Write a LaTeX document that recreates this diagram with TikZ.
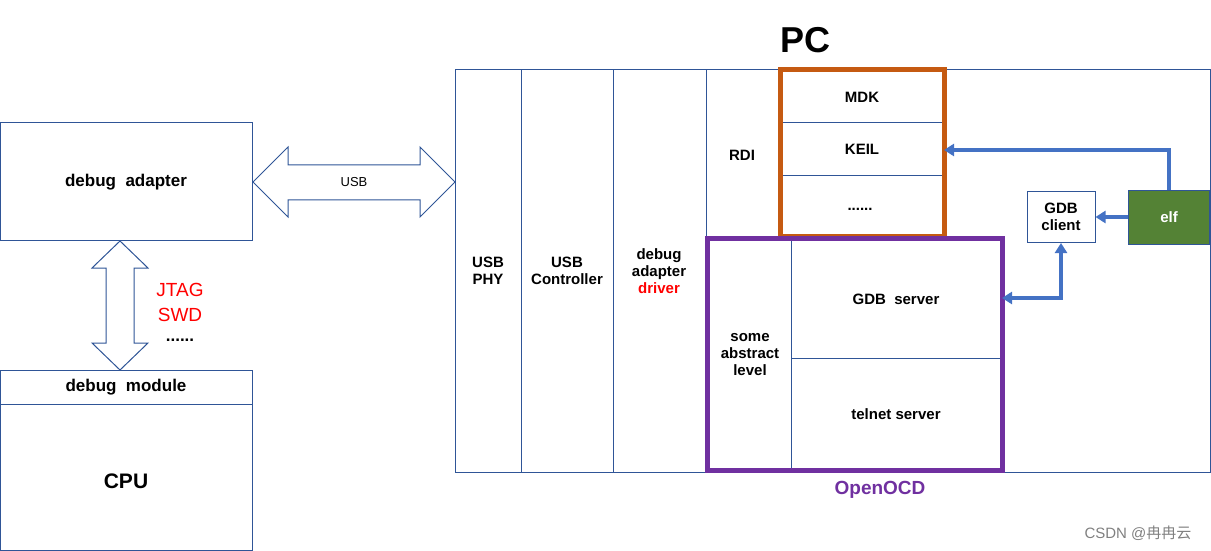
\documentclass[tikz,border=0pt]{standalone}
\usepackage{fontspec}
\setmainfont{Liberation Sans}
\newfontfamily\cjk{Noto Sans CJK SC}
\usetikzlibrary{shapes.arrows,arrows.meta}
\definecolor{bl}{HTML}{2F5597}
\definecolor{ab}{HTML}{4472C4}
\definecolor{og}{HTML}{C55A11}
\definecolor{pu}{HTML}{7030A0}
\definecolor{gr}{HTML}{548235}
\begin{document}
\begin{tikzpicture}[x=0.5pt,y=-0.5pt,
  box/.style={draw=bl,line width=0.5pt},
  t/.style={font=\bfseries\fontsize{7.5}{8.5}\selectfont,align=center},
  ar/.style={draw=ab,line width=2pt,-{Triangle[length=5pt,width=6pt]}}]
\useasboundingbox (0,0) rectangle (1211,551);
\draw[box] (0,123) rectangle (252,240);
\node[t,font=\bfseries\fontsize{8.5}{10}\selectfont] (da) at (126,182) {debug\ \ adapter};
\draw[box] (0,370) rectangle (252,550);
\draw[box] (0,404) -- (252,404);
\node[t,font=\bfseries\fontsize{8.5}{10}\selectfont] (dm) at (126,387) {debug\ \ module};
\node[t,font=\bfseries\fontsize{10.5}{12}\selectfont] (cpu) at (126,481) {CPU};
% USB double arrow
\draw[box,fill=white] (253,182) -- (288,147) -- (288,165) -- (420,165) -- (420,147) -- (455,182) -- (420,217) -- (420,200) -- (288,200) -- (288,217) -- cycle;
\node[font=\fontsize{6.5}{8}\selectfont] (usb) at (354,182) {USB};
% vertical double arrow
\draw[box,fill=white] (120,241) -- (148,268) -- (134,268) -- (134,343) -- (148,343) -- (120,370) -- (92,343) -- (106,343) -- (106,268) -- (92,268) -- cycle;
\node[font=\fontsize{9.5}{11}\selectfont,text=red] (jt) at (180,290) {JTAG};
\node[font=\fontsize{9.5}{11}\selectfont,text=red] (swd) at (180,315) {SWD};
\node[font=\bfseries\fontsize{8.5}{9}\selectfont] (dots) at (180,340) {......};
% PC
\draw[box] (455,70) rectangle (1210,472);
\foreach \x in {521,613,706} \draw[box] (\x,70) -- (\x,472);
\node[t] (phy) at (488,271) {USB\\PHY};
\node[t] (ctl) at (567,271) {USB\\Controller};
\node[t] (drv) at (659,271) {debug\\adapter\\\textcolor{red}{driver}};
\node[t] (rdi) at (742,155) {RDI};
\node[font=\bfseries\fontsize{18}{20}\selectfont] (pc) at (805,40) {PC};
% orange
\draw[box] (780,123) -- (944,123) (780,176) -- (944,176);
\node[t] (mdk) at (862,97) {MDK};
\node[t] (keil) at (862,149) {KEIL};
\node[t] (odots) at (860,209) {......};
\draw[og,line width=2.5pt] (780,70) rectangle (944,236);
% purple
\draw[box] (791,238) -- (791,470) (791,358) -- (1002,358);
\node[t] (abs) at (750,355) {some\\abstract\\level};
\node[t] (gdbs) at (896,299) {GDB\ \ server};
\node[t] (tel) at (896,414) {telnet server};
\draw[pu,line width=2.5pt] (707,238) rectangle (1002,470);
\node[font=\bfseries\fontsize{9.5}{11}\selectfont,text=pu] (ocd) at (880,490) {OpenOCD};
% right side
\node[box,fill=white,t,minimum width=34pt,minimum height=25.5pt,inner sep=0pt] (gc) at (1061,217) {GDB\\client};
\node[draw=bl,fill=gr,text=white,t,minimum width=40.5pt,minimum height=27pt] (elf) at (1169,217) {elf};
\coordinate (ke) at (944,150);
\coordinate (gs) at (1002,298);
\draw[ar] (elf.north) |- (ke);
\draw[ar] (elf.west) -- (gc.east);
\draw[draw=ab,line width=2pt,{Triangle[length=5pt,width=6pt]}-{Triangle[length=5pt,width=6pt]}] (gc.south) |- (gs);
\node[text=gray,font=\fontsize{7.5}{9}\selectfont] (wm) at (1138,533) {CSDN @{\cjk 冉冉云}};
\end{tikzpicture}
\end{document}
